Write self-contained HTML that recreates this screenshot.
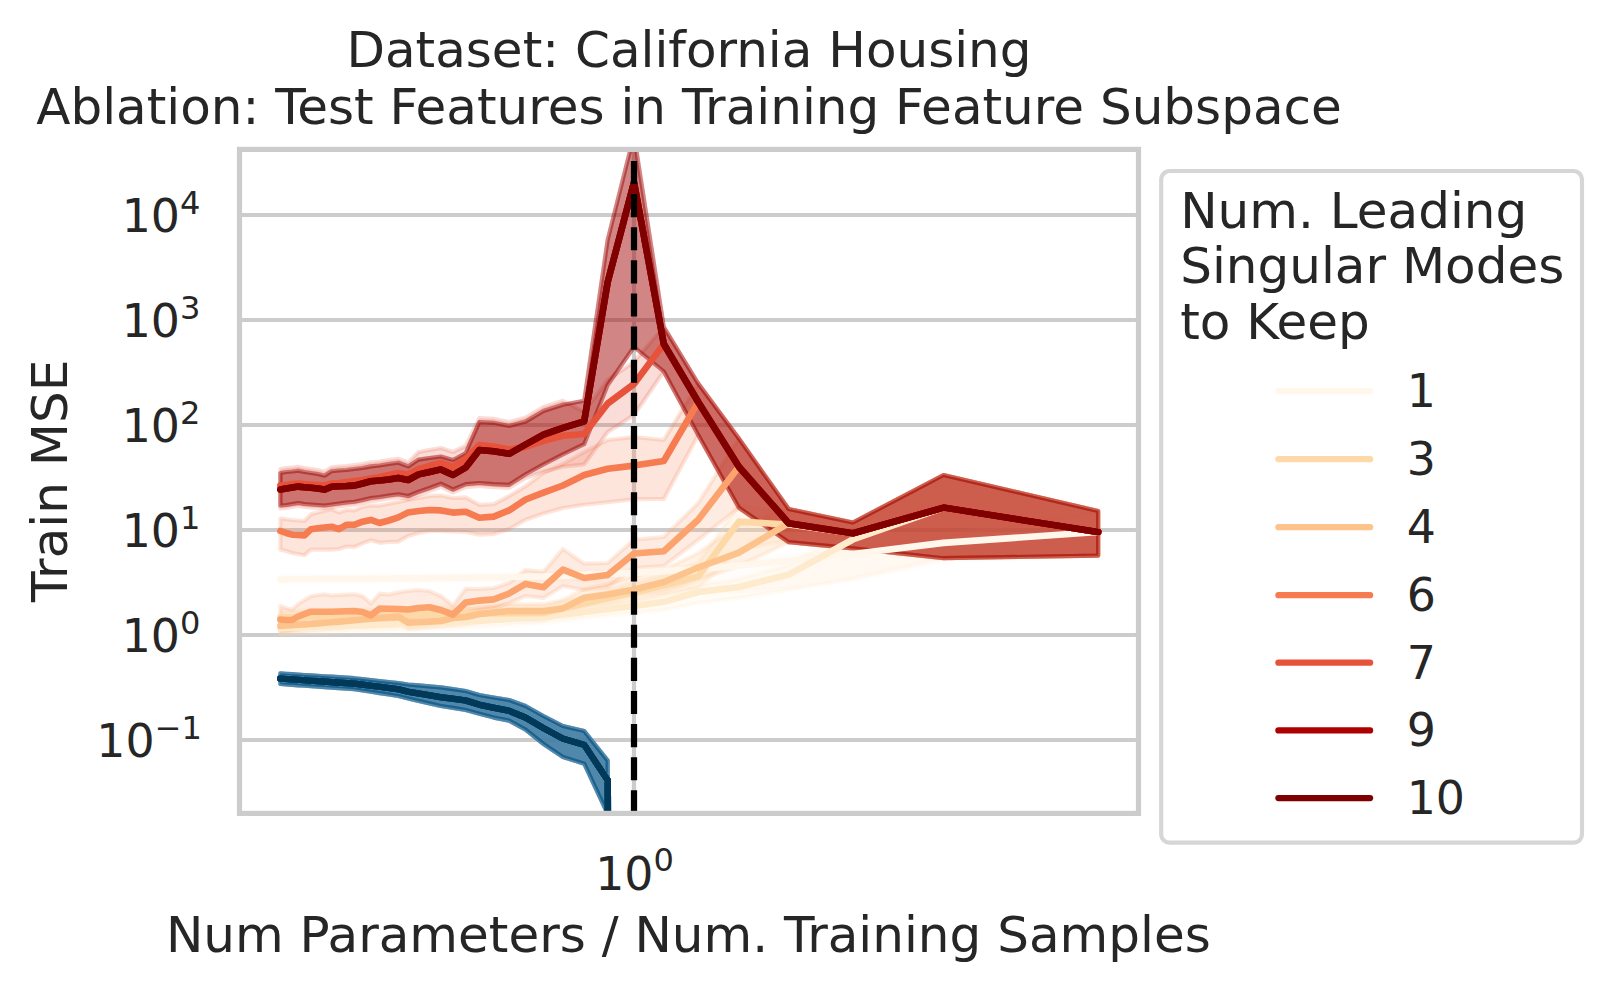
<!DOCTYPE html>
<html><head><meta charset="utf-8"><title>Train MSE ablation</title>
<style>html,body{margin:0;padding:0;background:#fff;}svg{display:block;}</style></head>
<body>
<svg width="1612" height="993" viewBox="0 0 1612 993" font-family="'DejaVu Sans', 'Liberation Sans', sans-serif" fill="#262626">
<rect width="1612" height="993" fill="#ffffff"/>
<defs><clipPath id="ax"><rect x="239.5" y="149.4" width="899.0" height="664.0"/></clipPath></defs>
<line x1="239.5" x2="1138.5" y1="215" y2="215" stroke="#cccccc" stroke-width="4.17"/>
<line x1="239.5" x2="1138.5" y1="320" y2="320" stroke="#cccccc" stroke-width="4.17"/>
<line x1="239.5" x2="1138.5" y1="425" y2="425" stroke="#cccccc" stroke-width="4.17"/>
<line x1="239.5" x2="1138.5" y1="530" y2="530" stroke="#cccccc" stroke-width="4.17"/>
<line x1="239.5" x2="1138.5" y1="635" y2="635" stroke="#cccccc" stroke-width="4.17"/>
<line x1="239.5" x2="1138.5" y1="740" y2="740" stroke="#cccccc" stroke-width="4.17"/>
<line x1="634.0" x2="634.0" y1="149.4" y2="813.4" stroke="#cccccc" stroke-width="4.17"/>
<g clip-path="url(#ax)">
<polygon points="280.4,673.4 286.2,673.8 292.1,674.2 298.2,674.6 304.5,675.0 311.0,675.4 317.7,675.8 324.5,676.3 331.6,676.7 338.9,677.2 346.5,677.7 354.3,678.2 362.5,679.1 370.9,680.0 379.6,681.0 388.8,682.0 398.3,683.0 408.2,684.5 418.6,685.4 429.5,686.4 440.9,687.4 453.0,689.1 465.7,691.0 479.3,695.0 493.7,697.5 509.1,700.0 525.6,706.0 543.5,716.0 562.9,726.0 584.2,731.0 607.7,760.6 608.7,900.0 606.7,900 607.7,814.0 584.2,763.7 562.9,756.9 543.5,744.0 525.6,729.7 509.1,720.6 493.7,717.6 479.3,713.8 465.7,710.0 453.0,707.9 440.9,706.0 429.5,703.4 418.6,700.9 408.2,698.5 398.3,696.0 388.8,694.5 379.6,693.1 370.9,691.8 362.5,690.5 354.3,689.2 346.5,688.6 338.9,688.1 331.6,687.6 324.5,687.1 317.7,686.6 311.0,686.2 304.5,685.7 298.2,685.3 292.1,684.8 286.2,684.4 280.4,684.0" fill="#fff7fb" fill-opacity="0.2" stroke="#fff7fb" stroke-opacity="0.2" stroke-width="4.17" stroke-linejoin="round"/>
<polygon points="280.4,673.4 286.2,673.8 292.1,674.2 298.2,674.6 304.5,675.0 311.0,675.4 317.7,675.8 324.5,676.3 331.6,676.7 338.9,677.2 346.5,677.7 354.3,678.2 362.5,679.1 370.9,680.0 379.6,681.0 388.8,682.0 398.3,683.0 408.2,684.5 418.6,685.4 429.5,686.4 440.9,687.4 453.0,689.1 465.7,691.0 479.3,695.0 493.7,697.5 509.1,700.0 525.6,706.0 543.5,716.0 562.9,726.0 584.2,731.0 607.7,760.6 608.7,900.0 606.7,900 607.7,814.0 584.2,763.7 562.9,756.9 543.5,744.0 525.6,729.7 509.1,720.6 493.7,717.6 479.3,713.8 465.7,710.0 453.0,707.9 440.9,706.0 429.5,703.4 418.6,700.9 408.2,698.5 398.3,696.0 388.8,694.5 379.6,693.1 370.9,691.8 362.5,690.5 354.3,689.2 346.5,688.6 338.9,688.1 331.6,687.6 324.5,687.1 317.7,686.6 311.0,686.2 304.5,685.7 298.2,685.3 292.1,684.8 286.2,684.4 280.4,684.0" fill="#eee9f3" fill-opacity="0.2" stroke="#eee9f3" stroke-opacity="0.2" stroke-width="4.17" stroke-linejoin="round"/>
<polygon points="280.4,673.4 286.2,673.8 292.1,674.2 298.2,674.6 304.5,675.0 311.0,675.4 317.7,675.8 324.5,676.3 331.6,676.7 338.9,677.2 346.5,677.7 354.3,678.2 362.5,679.1 370.9,680.0 379.6,681.0 388.8,682.0 398.3,683.0 408.2,684.5 418.6,685.4 429.5,686.4 440.9,687.4 453.0,689.1 465.7,691.0 479.3,695.0 493.7,697.5 509.1,700.0 525.6,706.0 543.5,716.0 562.9,726.0 584.2,731.0 607.7,760.6 608.7,900.0 606.7,900 607.7,814.0 584.2,763.7 562.9,756.9 543.5,744.0 525.6,729.7 509.1,720.6 493.7,717.6 479.3,713.8 465.7,710.0 453.0,707.9 440.9,706.0 429.5,703.4 418.6,700.9 408.2,698.5 398.3,696.0 388.8,694.5 379.6,693.1 370.9,691.8 362.5,690.5 354.3,689.2 346.5,688.6 338.9,688.1 331.6,687.6 324.5,687.1 317.7,686.6 311.0,686.2 304.5,685.7 298.2,685.3 292.1,684.8 286.2,684.4 280.4,684.0" fill="#d7d6e9" fill-opacity="0.2" stroke="#d7d6e9" stroke-opacity="0.2" stroke-width="4.17" stroke-linejoin="round"/>
<polygon points="280.4,673.4 286.2,673.8 292.1,674.2 298.2,674.6 304.5,675.0 311.0,675.4 317.7,675.8 324.5,676.3 331.6,676.7 338.9,677.2 346.5,677.7 354.3,678.2 362.5,679.1 370.9,680.0 379.6,681.0 388.8,682.0 398.3,683.0 408.2,684.5 418.6,685.4 429.5,686.4 440.9,687.4 453.0,689.1 465.7,691.0 479.3,695.0 493.7,697.5 509.1,700.0 525.6,706.0 543.5,716.0 562.9,726.0 584.2,731.0 607.7,760.6 608.7,900.0 606.7,900 607.7,814.0 584.2,763.7 562.9,756.9 543.5,744.0 525.6,729.7 509.1,720.6 493.7,717.6 479.3,713.8 465.7,710.0 453.0,707.9 440.9,706.0 429.5,703.4 418.6,700.9 408.2,698.5 398.3,696.0 388.8,694.5 379.6,693.1 370.9,691.8 362.5,690.5 354.3,689.2 346.5,688.6 338.9,688.1 331.6,687.6 324.5,687.1 317.7,686.6 311.0,686.2 304.5,685.7 298.2,685.3 292.1,684.8 286.2,684.4 280.4,684.0" fill="#b4c4df" fill-opacity="0.2" stroke="#b4c4df" stroke-opacity="0.2" stroke-width="4.17" stroke-linejoin="round"/>
<polygon points="280.4,673.4 286.2,673.8 292.1,674.2 298.2,674.6 304.5,675.0 311.0,675.4 317.7,675.8 324.5,676.3 331.6,676.7 338.9,677.2 346.5,677.7 354.3,678.2 362.5,679.1 370.9,680.0 379.6,681.0 388.8,682.0 398.3,683.0 408.2,684.5 418.6,685.4 429.5,686.4 440.9,687.4 453.0,689.1 465.7,691.0 479.3,695.0 493.7,697.5 509.1,700.0 525.6,706.0 543.5,716.0 562.9,726.0 584.2,731.0 607.7,760.6 608.7,900.0 606.7,900 607.7,814.0 584.2,763.7 562.9,756.9 543.5,744.0 525.6,729.7 509.1,720.6 493.7,717.6 479.3,713.8 465.7,710.0 453.0,707.9 440.9,706.0 429.5,703.4 418.6,700.9 408.2,698.5 398.3,696.0 388.8,694.5 379.6,693.1 370.9,691.8 362.5,690.5 354.3,689.2 346.5,688.6 338.9,688.1 331.6,687.6 324.5,687.1 317.7,686.6 311.0,686.2 304.5,685.7 298.2,685.3 292.1,684.8 286.2,684.4 280.4,684.0" fill="#8bb2d4" fill-opacity="0.2" stroke="#8bb2d4" stroke-opacity="0.2" stroke-width="4.17" stroke-linejoin="round"/>
<polygon points="280.4,673.4 286.2,673.8 292.1,674.2 298.2,674.6 304.5,675.0 311.0,675.4 317.7,675.8 324.5,676.3 331.6,676.7 338.9,677.2 346.5,677.7 354.3,678.2 362.5,679.1 370.9,680.0 379.6,681.0 388.8,682.0 398.3,683.0 408.2,684.5 418.6,685.4 429.5,686.4 440.9,687.4 453.0,689.1 465.7,691.0 479.3,695.0 493.7,697.5 509.1,700.0 525.6,706.0 543.5,716.0 562.9,726.0 584.2,731.0 607.7,760.6 608.7,900.0 606.7,900 607.7,814.0 584.2,763.7 562.9,756.9 543.5,744.0 525.6,729.7 509.1,720.6 493.7,717.6 479.3,713.8 465.7,710.0 453.0,707.9 440.9,706.0 429.5,703.4 418.6,700.9 408.2,698.5 398.3,696.0 388.8,694.5 379.6,693.1 370.9,691.8 362.5,690.5 354.3,689.2 346.5,688.6 338.9,688.1 331.6,687.6 324.5,687.1 317.7,686.6 311.0,686.2 304.5,685.7 298.2,685.3 292.1,684.8 286.2,684.4 280.4,684.0" fill="#589ec8" fill-opacity="0.2" stroke="#589ec8" stroke-opacity="0.2" stroke-width="4.17" stroke-linejoin="round"/>
<polygon points="280.4,673.4 286.2,673.8 292.1,674.2 298.2,674.6 304.5,675.0 311.0,675.4 317.7,675.8 324.5,676.3 331.6,676.7 338.9,677.2 346.5,677.7 354.3,678.2 362.5,679.1 370.9,680.0 379.6,681.0 388.8,682.0 398.3,683.0 408.2,684.5 418.6,685.4 429.5,686.4 440.9,687.4 453.0,689.1 465.7,691.0 479.3,695.0 493.7,697.5 509.1,700.0 525.6,706.0 543.5,716.0 562.9,726.0 584.2,731.0 607.7,760.6 608.7,900.0 606.7,900 607.7,814.0 584.2,763.7 562.9,756.9 543.5,744.0 525.6,729.7 509.1,720.6 493.7,717.6 479.3,713.8 465.7,710.0 453.0,707.9 440.9,706.0 429.5,703.4 418.6,700.9 408.2,698.5 398.3,696.0 388.8,694.5 379.6,693.1 370.9,691.8 362.5,690.5 354.3,689.2 346.5,688.6 338.9,688.1 331.6,687.6 324.5,687.1 317.7,686.6 311.0,686.2 304.5,685.7 298.2,685.3 292.1,684.8 286.2,684.4 280.4,684.0" fill="#2685bb" fill-opacity="0.2" stroke="#2685bb" stroke-opacity="0.2" stroke-width="4.17" stroke-linejoin="round"/>
<polygon points="280.4,673.4 286.2,673.8 292.1,674.2 298.2,674.6 304.5,675.0 311.0,675.4 317.7,675.8 324.5,676.3 331.6,676.7 338.9,677.2 346.5,677.7 354.3,678.2 362.5,679.1 370.9,680.0 379.6,681.0 388.8,682.0 398.3,683.0 408.2,684.5 418.6,685.4 429.5,686.4 440.9,687.4 453.0,689.1 465.7,691.0 479.3,695.0 493.7,697.5 509.1,700.0 525.6,706.0 543.5,716.0 562.9,726.0 584.2,731.0 607.7,760.6 608.7,900.0 606.7,900 607.7,814.0 584.2,763.7 562.9,756.9 543.5,744.0 525.6,729.7 509.1,720.6 493.7,717.6 479.3,713.8 465.7,710.0 453.0,707.9 440.9,706.0 429.5,703.4 418.6,700.9 408.2,698.5 398.3,696.0 388.8,694.5 379.6,693.1 370.9,691.8 362.5,690.5 354.3,689.2 346.5,688.6 338.9,688.1 331.6,687.6 324.5,687.1 317.7,686.6 311.0,686.2 304.5,685.7 298.2,685.3 292.1,684.8 286.2,684.4 280.4,684.0" fill="#056ba7" fill-opacity="0.2" stroke="#056ba7" stroke-opacity="0.2" stroke-width="4.17" stroke-linejoin="round"/>
<polygon points="280.4,673.4 286.2,673.8 292.1,674.2 298.2,674.6 304.5,675.0 311.0,675.4 317.7,675.8 324.5,676.3 331.6,676.7 338.9,677.2 346.5,677.7 354.3,678.2 362.5,679.1 370.9,680.0 379.6,681.0 388.8,682.0 398.3,683.0 408.2,684.5 418.6,685.4 429.5,686.4 440.9,687.4 453.0,689.1 465.7,691.0 479.3,695.0 493.7,697.5 509.1,700.0 525.6,706.0 543.5,716.0 562.9,726.0 584.2,731.0 607.7,760.6 608.7,900.0 606.7,900 607.7,814.0 584.2,763.7 562.9,756.9 543.5,744.0 525.6,729.7 509.1,720.6 493.7,717.6 479.3,713.8 465.7,710.0 453.0,707.9 440.9,706.0 429.5,703.4 418.6,700.9 408.2,698.5 398.3,696.0 388.8,694.5 379.6,693.1 370.9,691.8 362.5,690.5 354.3,689.2 346.5,688.6 338.9,688.1 331.6,687.6 324.5,687.1 317.7,686.6 311.0,686.2 304.5,685.7 298.2,685.3 292.1,684.8 286.2,684.4 280.4,684.0" fill="#045687" fill-opacity="0.2" stroke="#045687" stroke-opacity="0.2" stroke-width="4.17" stroke-linejoin="round"/>
<polygon points="280.4,673.4 286.2,673.8 292.1,674.2 298.2,674.6 304.5,675.0 311.0,675.4 317.7,675.8 324.5,676.3 331.6,676.7 338.9,677.2 346.5,677.7 354.3,678.2 362.5,679.1 370.9,680.0 379.6,681.0 388.8,682.0 398.3,683.0 408.2,684.5 418.6,685.4 429.5,686.4 440.9,687.4 453.0,689.1 465.7,691.0 479.3,695.0 493.7,697.5 509.1,700.0 525.6,706.0 543.5,716.0 562.9,726.0 584.2,731.0 607.7,760.6 608.7,900.0 606.7,900 607.7,814.0 584.2,763.7 562.9,756.9 543.5,744.0 525.6,729.7 509.1,720.6 493.7,717.6 479.3,713.8 465.7,710.0 453.0,707.9 440.9,706.0 429.5,703.4 418.6,700.9 408.2,698.5 398.3,696.0 388.8,694.5 379.6,693.1 370.9,691.8 362.5,690.5 354.3,689.2 346.5,688.6 338.9,688.1 331.6,687.6 324.5,687.1 317.7,686.6 311.0,686.2 304.5,685.7 298.2,685.3 292.1,684.8 286.2,684.4 280.4,684.0" fill="#023858" fill-opacity="0.2" stroke="#023858" stroke-opacity="0.2" stroke-width="4.17" stroke-linejoin="round"/>
<polygon points="280.4,576.4 286.2,576.3 292.1,576.3 298.2,576.2 304.5,576.2 311.0,576.1 317.7,576.1 324.5,576.0 331.6,576.0 338.9,575.9 346.5,575.8 354.3,575.8 362.5,575.7 370.9,575.6 379.6,575.5 388.8,575.5 398.3,575.4 408.2,575.3 418.6,575.2 429.5,575.1 440.9,575.0 453.0,574.8 465.7,574.6 479.3,574.4 493.7,574.2 509.1,574.0 525.6,573.8 543.5,573.5 562.9,572.6 584.2,571.7 607.7,570.7 634.0,569.5 663.8,567.4 698.2,565.0 738.9,561.0 788.7,556.0 852.9,548.0 943.5,536.0 1098.2,511.0 1098.2,555.6 943.5,561.0 852.9,580.0 788.7,588.0 738.9,591.0 698.2,590.0 663.8,586.8 634.0,584.0 607.7,583.1 584.2,582.3 562.9,581.6 543.5,581.0 525.6,581.0 509.1,581.0 493.7,581.0 479.3,581.0 465.7,581.0 453.0,581.0 440.9,581.0 429.5,581.1 418.6,581.2 408.2,581.3 398.3,581.4 388.8,581.5 379.6,581.5 370.9,581.6 362.5,581.7 354.3,581.8 346.5,581.8 338.9,581.9 331.6,582.0 324.5,582.0 317.7,582.1 311.0,582.1 304.5,582.2 298.2,582.2 292.1,582.3 286.2,582.3 280.4,582.4" fill="#fff7ec" fill-opacity="0.2" stroke="#fff7ec" stroke-opacity="0.2" stroke-width="4.17" stroke-linejoin="round"/>
<polygon points="280.4,622.0 286.2,621.8 292.1,621.6 298.2,621.4 304.5,621.2 311.0,621.0 317.7,620.8 324.5,620.6 331.6,620.4 338.9,620.2 346.5,619.9 354.3,619.7 362.5,619.4 370.9,619.2 379.6,618.9 388.8,618.6 398.3,618.3 408.2,618.0 418.6,617.7 429.5,617.4 440.9,617.0 453.0,616.3 465.7,615.5 479.3,614.8 493.7,613.9 509.1,613.0 525.6,612.0 543.5,611.0 562.9,608.6 584.2,606.0 607.7,603.2 634.0,600.0 663.8,595.0 698.2,585.0 738.9,579.0 788.7,565.0 852.9,528.0 943.5,475.0 1098.2,511.0 1098.2,555.6 943.5,558.2 852.9,578.0 788.7,590.0 738.9,598.0 698.2,603.0 663.8,610.0 634.0,613.0 607.7,615.6 584.2,618.0 562.9,620.6 543.5,623.0 525.6,624.0 509.1,625.0 493.7,625.9 479.3,626.8 465.7,627.5 453.0,628.3 440.9,629.0 429.5,629.4 418.6,629.7 408.2,630.0 398.3,630.3 388.8,630.6 379.6,630.9 370.9,631.2 362.5,631.4 354.3,631.7 346.5,631.9 338.9,632.2 331.6,632.4 324.5,632.6 317.7,632.8 311.0,633.0 304.5,633.2 298.2,633.4 292.1,633.6 286.2,633.8 280.4,634.0" fill="#feeacc" fill-opacity="0.2" stroke="#feeacc" stroke-opacity="0.2" stroke-width="4.17" stroke-linejoin="round"/>
<polygon points="280.4,611.0 286.2,610.9 292.1,610.8 298.2,610.8 304.5,610.7 311.0,610.6 317.7,610.5 324.5,610.4 331.6,610.3 338.9,610.2 346.5,610.1 354.3,610.0 362.5,609.8 370.9,609.6 379.6,609.3 388.8,609.1 398.3,608.8 408.2,608.6 418.6,608.3 429.5,608.0 440.9,607.7 453.0,607.3 465.7,607.0 479.3,606.8 493.7,606.6 509.1,606.4 525.6,606.2 543.5,606.0 562.9,601.0 584.2,596.0 607.7,590.0 634.0,583.0 663.8,575.0 698.2,563.0 738.9,505.0 788.7,512.0 852.9,522.5 943.5,475.0 1098.2,511.0 1098.2,555.6 943.5,558.2 852.9,548.4 788.7,540.0 738.9,550.0 698.2,588.0 663.8,595.0 634.0,601.0 607.7,606.0 584.2,611.0 562.9,615.0 543.5,620.0 525.6,620.0 509.1,620.0 493.7,620.0 479.3,620.0 465.7,620.0 453.0,620.2 440.9,620.4 429.5,620.7 418.6,620.8 408.2,621.0 398.3,621.2 388.8,621.4 379.6,621.5 370.9,621.7 362.5,621.9 354.3,622.0 346.5,622.2 338.9,622.4 331.6,622.6 324.5,622.8 317.7,623.0 311.0,623.2 304.5,623.3 298.2,623.5 292.1,623.7 286.2,623.8 280.4,624.0" fill="#fdd9a8" fill-opacity="0.2" stroke="#fdd9a8" stroke-opacity="0.2" stroke-width="4.17" stroke-linejoin="round"/>
<polygon points="280.4,619.0 286.2,618.8 292.1,618.6 298.2,618.4 304.5,618.2 311.0,618.0 317.7,617.4 324.5,616.8 331.6,616.1 338.9,615.4 346.5,614.7 354.3,614.0 362.5,613.3 370.9,612.5 379.6,611.7 388.8,610.9 398.3,610.0 408.2,616.0 418.6,614.9 429.5,613.8 440.9,612.6 453.0,611.3 465.7,610.0 479.3,608.1 493.7,606.1 509.1,604.0 525.6,604.0 543.5,604.0 562.9,600.0 584.2,589.0 607.7,584.0 634.0,576.0 663.8,570.0 698.2,553.0 738.9,525.0 788.7,509.0 852.9,522.5 943.5,475.0 1098.2,511.0 1098.2,555.6 943.5,558.2 852.9,548.4 788.7,542.2 738.9,566.0 698.2,580.0 663.8,592.0 634.0,596.0 607.7,602.0 584.2,606.0 562.9,615.0 543.5,618.0 525.6,618.0 509.1,618.0 493.7,620.1 479.3,622.1 465.7,624.0 453.0,625.1 440.9,626.2 429.5,627.2 418.6,628.1 408.2,629.0 398.3,623.0 388.8,623.9 379.6,624.7 370.9,625.5 362.5,626.3 354.3,627.0 346.5,627.5 338.9,628.1 331.6,628.6 324.5,629.1 317.7,629.5 311.0,630.0 304.5,630.8 298.2,631.7 292.1,632.5 286.2,633.2 280.4,634.0" fill="#fdc38d" fill-opacity="0.2" stroke="#fdc38d" stroke-opacity="0.2" stroke-width="4.17" stroke-linejoin="round"/>
<polygon points="280.4,606.0 286.2,608.0 292.1,609.8 298.2,604.0 304.5,600.0 311.0,596.2 317.7,595.0 324.5,594.3 331.6,595.5 338.9,595.0 346.5,594.6 354.3,594.3 362.5,596.0 370.9,603.6 379.6,593.7 388.8,594.5 398.3,592.4 408.2,591.0 418.6,590.0 429.5,591.2 440.9,596.0 453.0,605.5 465.7,588.8 479.3,589.0 493.7,588.0 509.1,583.0 525.6,570.0 543.5,571.8 562.9,548.9 584.2,563.7 607.7,563.0 634.0,539.6 663.8,537.0 698.2,503.0 738.9,438.6 788.7,509.0 852.9,522.5 943.5,475.0 1098.2,511.0 1098.2,555.6 943.5,558.2 852.9,548.4 788.7,542.2 738.9,507.7 698.2,540.0 663.8,566.0 634.0,568.0 607.7,587.0 584.2,590.0 562.9,586.0 543.5,598.0 525.6,596.0 509.1,603.0 493.7,608.0 479.3,610.0 465.7,612.0 453.0,621.0 440.9,619.0 429.5,617.0 418.6,618.0 408.2,619.0 398.3,620.0 388.8,621.4 379.6,622.7 370.9,624.0 362.5,623.0 354.3,622.0 346.5,622.4 338.9,622.7 331.6,623.0 324.5,623.4 317.7,623.7 311.0,624.0 304.5,626.1 298.2,628.1 292.1,630.0 286.2,630.5 280.4,631.0" fill="#fca26d" fill-opacity="0.2" stroke="#fca26d" stroke-opacity="0.2" stroke-width="4.17" stroke-linejoin="round"/>
<polygon points="280.4,518.6 286.2,519.3 292.1,520.0 298.2,520.5 304.5,521.0 311.0,514.3 317.7,512.5 324.5,511.0 331.6,509.3 338.9,512.4 346.5,510.0 354.3,510.5 362.5,506.8 370.9,505.6 379.6,505.6 388.8,503.7 398.3,501.9 408.2,500.0 418.6,498.0 429.5,496.0 440.9,495.5 453.0,498.0 465.7,497.4 479.3,504.8 493.7,504.2 509.1,496.0 525.6,486.2 543.5,473.0 562.9,464.0 584.2,452.0 607.7,440.0 634.0,437.0 663.8,440.0 698.2,383.6 738.9,438.6 788.7,509.0 852.9,522.5 943.5,475.0 1098.2,511.0 1098.2,555.6 943.5,558.2 852.9,548.4 788.7,542.2 738.9,507.7 698.2,435.0 663.8,499.0 634.0,499.2 607.7,502.3 584.2,504.8 562.9,508.0 543.5,513.5 525.6,519.7 509.1,529.0 493.7,534.0 479.3,534.6 465.7,532.0 453.0,531.5 440.9,530.9 429.5,531.0 418.6,533.0 408.2,536.0 398.3,541.6 388.8,542.0 379.6,542.8 370.9,540.3 362.5,543.4 354.3,547.0 346.5,546.5 338.9,549.0 331.6,549.6 324.5,549.6 317.7,549.6 311.0,549.6 304.5,555.2 298.2,554.0 292.1,553.0 286.2,551.0 280.4,549.6" fill="#f67b51" fill-opacity="0.2" stroke="#f67b51" stroke-opacity="0.2" stroke-width="4.17" stroke-linejoin="round"/>
<polygon points="280.4,469.0 286.2,468.0 292.1,467.5 298.2,466.7 304.5,468.0 311.0,469.0 317.7,470.0 324.5,471.7 331.6,467.3 338.9,466.5 346.5,466.0 354.3,465.0 362.5,464.0 370.9,462.4 379.6,461.5 388.8,460.0 398.3,458.7 408.2,462.4 418.6,452.0 429.5,450.0 440.9,448.0 453.0,452.0 465.7,446.0 479.3,418.2 493.7,418.8 509.1,422.0 525.6,417.6 543.5,407.0 562.9,400.8 584.2,412.0 607.7,380.0 634.0,362.0 663.8,327.0 698.2,383.6 738.9,438.6 788.7,509.0 852.9,522.5 943.5,475.0 1098.2,511.0 1098.2,555.6 943.5,558.2 852.9,548.4 788.7,542.2 738.9,507.7 698.2,435.0 663.8,371.5 634.0,415.0 607.7,432.0 584.2,464.4 562.9,466.8 543.5,471.8 525.6,478.0 509.1,487.8 493.7,487.2 479.3,486.0 465.7,487.2 453.0,492.5 440.9,486.7 429.5,491.0 418.6,494.8 408.2,499.0 398.3,497.3 388.8,498.5 379.6,500.0 370.9,501.0 362.5,503.0 354.3,504.7 346.5,505.5 338.9,506.5 331.6,507.5 324.5,508.5 317.7,508.0 311.0,507.5 304.5,507.0 298.2,506.0 292.1,507.0 286.2,508.0 280.4,508.5" fill="#e7533a" fill-opacity="0.2" stroke="#e7533a" stroke-opacity="0.2" stroke-width="4.17" stroke-linejoin="round"/>
<polygon points="280.4,473.0 286.2,472.0 292.1,471.5 298.2,470.7 304.5,472.0 311.0,473.0 317.7,474.0 324.5,475.7 331.6,471.3 338.9,470.5 346.5,470.0 354.3,469.0 362.5,468.0 370.9,466.4 379.6,465.5 388.8,464.0 398.3,462.7 408.2,466.4 418.6,459.6 429.5,458.0 440.9,456.5 453.0,460.0 465.7,453.0 479.3,422.2 493.7,422.8 509.1,426.0 525.6,421.6 543.5,411.0 562.9,404.8 584.2,400.7 607.7,239.7 634.0,135.0 663.8,327.0 698.2,383.6 738.9,438.6 788.7,509.0 852.9,522.5 943.5,475.0 1098.2,511.0 1098.2,555.6 943.5,558.2 852.9,548.4 788.7,542.2 738.9,507.7 698.2,435.0 663.8,371.5 634.0,347.0 607.7,385.0 584.2,444.2 562.9,454.4 543.5,464.4 525.6,474.3 509.1,484.8 493.7,484.2 479.3,483.0 465.7,484.2 453.0,489.5 440.9,483.7 429.5,488.0 418.6,491.8 408.2,496.0 398.3,494.3 388.8,495.5 379.6,497.0 370.9,498.0 362.5,500.0 354.3,501.7 346.5,502.5 338.9,503.5 331.6,504.5 324.5,505.5 317.7,505.0 311.0,504.5 304.5,504.0 298.2,503.0 292.1,504.0 286.2,505.0 280.4,505.5" fill="#ce2417" fill-opacity="0.2" stroke="#ce2417" stroke-opacity="0.2" stroke-width="4.17" stroke-linejoin="round"/>
<polygon points="280.4,473.0 286.2,472.0 292.1,471.5 298.2,470.7 304.5,472.0 311.0,473.0 317.7,474.0 324.5,475.7 331.6,471.3 338.9,470.5 346.5,470.0 354.3,469.0 362.5,468.0 370.9,466.4 379.6,465.5 388.8,464.0 398.3,462.7 408.2,466.4 418.6,459.6 429.5,458.0 440.9,456.5 453.0,460.0 465.7,453.0 479.3,422.2 493.7,422.8 509.1,426.0 525.6,421.6 543.5,411.0 562.9,404.8 584.2,400.7 607.7,239.7 634.0,135.0 663.8,327.0 698.2,383.6 738.9,438.6 788.7,509.0 852.9,522.5 943.5,475.0 1098.2,511.0 1098.2,555.6 943.5,558.2 852.9,548.4 788.7,542.2 738.9,507.7 698.2,435.0 663.8,371.5 634.0,347.0 607.7,385.0 584.2,444.2 562.9,454.4 543.5,464.4 525.6,474.3 509.1,484.8 493.7,484.2 479.3,483.0 465.7,484.2 453.0,489.5 440.9,483.7 429.5,488.0 418.6,491.8 408.2,496.0 398.3,494.3 388.8,495.5 379.6,497.0 370.9,498.0 362.5,500.0 354.3,501.7 346.5,502.5 338.9,503.5 331.6,504.5 324.5,505.5 317.7,505.0 311.0,504.5 304.5,504.0 298.2,503.0 292.1,504.0 286.2,505.0 280.4,505.5" fill="#ad0000" fill-opacity="0.2" stroke="#ad0000" stroke-opacity="0.2" stroke-width="4.17" stroke-linejoin="round"/>
<polygon points="280.4,473.0 286.2,472.0 292.1,471.5 298.2,470.7 304.5,472.0 311.0,473.0 317.7,474.0 324.5,475.7 331.6,471.3 338.9,470.5 346.5,470.0 354.3,469.0 362.5,468.0 370.9,466.4 379.6,465.5 388.8,464.0 398.3,462.7 408.2,466.4 418.6,459.6 429.5,458.0 440.9,456.5 453.0,460.0 465.7,453.0 479.3,422.2 493.7,422.8 509.1,426.0 525.6,421.6 543.5,411.0 562.9,404.8 584.2,400.7 607.7,239.7 634.0,135.0 663.8,327.0 698.2,383.6 738.9,438.6 788.7,509.0 852.9,522.5 943.5,475.0 1098.2,511.0 1098.2,555.6 943.5,558.2 852.9,548.4 788.7,542.2 738.9,507.7 698.2,435.0 663.8,371.5 634.0,347.0 607.7,385.0 584.2,444.2 562.9,454.4 543.5,464.4 525.6,474.3 509.1,484.8 493.7,484.2 479.3,483.0 465.7,484.2 453.0,489.5 440.9,483.7 429.5,488.0 418.6,491.8 408.2,496.0 398.3,494.3 388.8,495.5 379.6,497.0 370.9,498.0 362.5,500.0 354.3,501.7 346.5,502.5 338.9,503.5 331.6,504.5 324.5,505.5 317.7,505.0 311.0,504.5 304.5,504.0 298.2,503.0 292.1,504.0 286.2,505.0 280.4,505.5" fill="#7f0000" fill-opacity="0.2" stroke="#7f0000" stroke-opacity="0.2" stroke-width="4.17" stroke-linejoin="round"/>
<polyline points="280.4,678.6 286.2,679.0 292.1,679.4 298.2,679.8 304.5,680.2 311.0,680.7 317.7,681.1 324.5,681.6 331.6,682.1 338.9,682.6 346.5,683.1 354.3,683.6 362.5,684.6 370.9,685.7 379.6,686.8 388.8,688.0 398.3,689.2 408.2,691.7 418.6,693.4 429.5,695.3 440.9,697.2 453.0,698.8 465.7,700.5 479.3,704.7 493.7,707.8 509.1,710.8 525.6,717.6 543.5,728.2 562.9,738.7 584.2,744.8 607.7,780.3 608.0,900.0" fill="none" stroke="#fff7fb" stroke-width="6.6" stroke-linejoin="round" stroke-linecap="round"/>
<polyline points="280.4,678.6 286.2,679.0 292.1,679.4 298.2,679.8 304.5,680.2 311.0,680.7 317.7,681.1 324.5,681.6 331.6,682.1 338.9,682.6 346.5,683.1 354.3,683.6 362.5,684.6 370.9,685.7 379.6,686.8 388.8,688.0 398.3,689.2 408.2,691.7 418.6,693.4 429.5,695.3 440.9,697.2 453.0,698.8 465.7,700.5 479.3,704.7 493.7,707.8 509.1,710.8 525.6,717.6 543.5,728.2 562.9,738.7 584.2,744.8 607.7,780.3 608.0,900.0" fill="none" stroke="#eee9f3" stroke-width="6.6" stroke-linejoin="round" stroke-linecap="round"/>
<polyline points="280.4,678.6 286.2,679.0 292.1,679.4 298.2,679.8 304.5,680.2 311.0,680.7 317.7,681.1 324.5,681.6 331.6,682.1 338.9,682.6 346.5,683.1 354.3,683.6 362.5,684.6 370.9,685.7 379.6,686.8 388.8,688.0 398.3,689.2 408.2,691.7 418.6,693.4 429.5,695.3 440.9,697.2 453.0,698.8 465.7,700.5 479.3,704.7 493.7,707.8 509.1,710.8 525.6,717.6 543.5,728.2 562.9,738.7 584.2,744.8 607.7,780.3 608.0,900.0" fill="none" stroke="#d7d6e9" stroke-width="6.6" stroke-linejoin="round" stroke-linecap="round"/>
<polyline points="280.4,678.6 286.2,679.0 292.1,679.4 298.2,679.8 304.5,680.2 311.0,680.7 317.7,681.1 324.5,681.6 331.6,682.1 338.9,682.6 346.5,683.1 354.3,683.6 362.5,684.6 370.9,685.7 379.6,686.8 388.8,688.0 398.3,689.2 408.2,691.7 418.6,693.4 429.5,695.3 440.9,697.2 453.0,698.8 465.7,700.5 479.3,704.7 493.7,707.8 509.1,710.8 525.6,717.6 543.5,728.2 562.9,738.7 584.2,744.8 607.7,780.3 608.0,900.0" fill="none" stroke="#b4c4df" stroke-width="6.6" stroke-linejoin="round" stroke-linecap="round"/>
<polyline points="280.4,678.6 286.2,679.0 292.1,679.4 298.2,679.8 304.5,680.2 311.0,680.7 317.7,681.1 324.5,681.6 331.6,682.1 338.9,682.6 346.5,683.1 354.3,683.6 362.5,684.6 370.9,685.7 379.6,686.8 388.8,688.0 398.3,689.2 408.2,691.7 418.6,693.4 429.5,695.3 440.9,697.2 453.0,698.8 465.7,700.5 479.3,704.7 493.7,707.8 509.1,710.8 525.6,717.6 543.5,728.2 562.9,738.7 584.2,744.8 607.7,780.3 608.0,900.0" fill="none" stroke="#8bb2d4" stroke-width="6.6" stroke-linejoin="round" stroke-linecap="round"/>
<polyline points="280.4,678.6 286.2,679.0 292.1,679.4 298.2,679.8 304.5,680.2 311.0,680.7 317.7,681.1 324.5,681.6 331.6,682.1 338.9,682.6 346.5,683.1 354.3,683.6 362.5,684.6 370.9,685.7 379.6,686.8 388.8,688.0 398.3,689.2 408.2,691.7 418.6,693.4 429.5,695.3 440.9,697.2 453.0,698.8 465.7,700.5 479.3,704.7 493.7,707.8 509.1,710.8 525.6,717.6 543.5,728.2 562.9,738.7 584.2,744.8 607.7,780.3 608.0,900.0" fill="none" stroke="#589ec8" stroke-width="6.6" stroke-linejoin="round" stroke-linecap="round"/>
<polyline points="280.4,678.6 286.2,679.0 292.1,679.4 298.2,679.8 304.5,680.2 311.0,680.7 317.7,681.1 324.5,681.6 331.6,682.1 338.9,682.6 346.5,683.1 354.3,683.6 362.5,684.6 370.9,685.7 379.6,686.8 388.8,688.0 398.3,689.2 408.2,691.7 418.6,693.4 429.5,695.3 440.9,697.2 453.0,698.8 465.7,700.5 479.3,704.7 493.7,707.8 509.1,710.8 525.6,717.6 543.5,728.2 562.9,738.7 584.2,744.8 607.7,780.3 608.0,900.0" fill="none" stroke="#2685bb" stroke-width="6.6" stroke-linejoin="round" stroke-linecap="round"/>
<polyline points="280.4,678.6 286.2,679.0 292.1,679.4 298.2,679.8 304.5,680.2 311.0,680.7 317.7,681.1 324.5,681.6 331.6,682.1 338.9,682.6 346.5,683.1 354.3,683.6 362.5,684.6 370.9,685.7 379.6,686.8 388.8,688.0 398.3,689.2 408.2,691.7 418.6,693.4 429.5,695.3 440.9,697.2 453.0,698.8 465.7,700.5 479.3,704.7 493.7,707.8 509.1,710.8 525.6,717.6 543.5,728.2 562.9,738.7 584.2,744.8 607.7,780.3 608.0,900.0" fill="none" stroke="#056ba7" stroke-width="6.6" stroke-linejoin="round" stroke-linecap="round"/>
<polyline points="280.4,678.6 286.2,679.0 292.1,679.4 298.2,679.8 304.5,680.2 311.0,680.7 317.7,681.1 324.5,681.6 331.6,682.1 338.9,682.6 346.5,683.1 354.3,683.6 362.5,684.6 370.9,685.7 379.6,686.8 388.8,688.0 398.3,689.2 408.2,691.7 418.6,693.4 429.5,695.3 440.9,697.2 453.0,698.8 465.7,700.5 479.3,704.7 493.7,707.8 509.1,710.8 525.6,717.6 543.5,728.2 562.9,738.7 584.2,744.8 607.7,780.3 608.0,900.0" fill="none" stroke="#045687" stroke-width="6.6" stroke-linejoin="round" stroke-linecap="round"/>
<polyline points="280.4,678.6 286.2,679.0 292.1,679.4 298.2,679.8 304.5,680.2 311.0,680.7 317.7,681.1 324.5,681.6 331.6,682.1 338.9,682.6 346.5,683.1 354.3,683.6 362.5,684.6 370.9,685.7 379.6,686.8 388.8,688.0 398.3,689.2 408.2,691.7 418.6,693.4 429.5,695.3 440.9,697.2 453.0,698.8 465.7,700.5 479.3,704.7 493.7,707.8 509.1,710.8 525.6,717.6 543.5,728.2 562.9,738.7 584.2,744.8 607.7,780.3 608.0,900.0" fill="none" stroke="#023858" stroke-width="6.6" stroke-linejoin="round" stroke-linecap="round"/>
<polyline points="280.4,579.4 286.2,579.3 292.1,579.3 298.2,579.2 304.5,579.2 311.0,579.1 317.7,579.1 324.5,579.0 331.6,579.0 338.9,578.9 346.5,578.8 354.3,578.8 362.5,578.7 370.9,578.6 379.6,578.5 388.8,578.5 398.3,578.4 408.2,578.3 418.6,578.2 429.5,578.1 440.9,578.0 453.0,577.8 465.7,577.6 479.3,577.4 493.7,577.2 509.1,577.0 525.6,576.8 543.5,576.5 562.9,575.7 584.2,574.9 607.7,574.0 634.0,573.0 663.8,571.1 698.2,569.0 738.9,565.5 788.7,561.0 852.9,554.0 943.5,542.9 1098.2,532.0" fill="none" stroke="#fff7ec" stroke-width="6.6" stroke-linejoin="round" stroke-linecap="round"/>
<polyline points="280.4,628.0 286.2,627.8 292.1,627.6 298.2,627.4 304.5,627.2 311.0,627.0 317.7,626.8 324.5,626.6 331.6,626.4 338.9,626.2 346.5,625.9 354.3,625.7 362.5,625.4 370.9,625.2 379.6,624.9 388.8,624.6 398.3,624.3 408.2,624.0 418.6,623.7 429.5,623.4 440.9,623.0 453.0,622.3 465.7,621.5 479.3,620.8 493.7,619.9 509.1,619.0 525.6,618.0 543.5,617.0 562.9,614.6 584.2,612.0 607.7,609.2 634.0,606.0 663.8,601.8 698.2,592.0 738.9,587.0 788.7,574.6 852.9,539.5 943.5,507.6 1098.2,532.0" fill="none" stroke="#feeacc" stroke-width="6.6" stroke-linejoin="round" stroke-linecap="round"/>
<polyline points="280.4,617.2 286.2,617.1 292.1,617.0 298.2,616.9 304.5,616.8 311.0,616.7 317.7,616.6 324.5,616.5 331.6,616.4 338.9,616.2 346.5,616.1 354.3,616.0 362.5,615.8 370.9,615.6 379.6,615.4 388.8,615.2 398.3,615.0 408.2,614.8 418.6,614.6 429.5,614.3 440.9,614.1 453.0,613.8 465.7,613.5 479.3,613.4 493.7,613.3 509.1,613.2 525.6,613.1 543.5,613.0 562.9,608.0 584.2,603.4 607.7,598.0 634.0,592.3 663.8,585.6 698.2,576.4 738.9,521.6 788.7,524.6 852.9,533.2 943.5,507.6 1098.2,532.0" fill="none" stroke="#fdd9a8" stroke-width="6.6" stroke-linejoin="round" stroke-linecap="round"/>
<polyline points="280.4,625.9 286.2,625.5 292.1,625.2 298.2,624.8 304.5,624.4 311.0,624.0 317.7,623.4 324.5,622.8 331.6,622.2 338.9,621.6 346.5,621.0 354.3,620.3 362.5,619.5 370.9,618.8 379.6,618.0 388.8,617.2 398.3,616.6 408.2,622.8 418.6,622.2 429.5,621.6 440.9,621.0 453.0,618.0 465.7,617.0 479.3,614.0 493.7,612.5 509.1,611.0 525.6,611.0 543.5,611.0 562.9,608.4 584.2,597.8 607.7,594.5 634.0,589.5 663.8,582.0 698.2,567.5 738.9,552.6 788.7,523.2 852.9,533.2 943.5,507.6 1098.2,532.0" fill="none" stroke="#fdc38d" stroke-width="6.6" stroke-linejoin="round" stroke-linecap="round"/>
<polyline points="280.4,619.5 286.2,620.0 292.1,620.0 298.2,616.5 304.5,614.0 311.0,611.7 317.7,611.7 324.5,611.7 331.6,611.7 338.9,611.5 346.5,611.3 354.3,611.0 362.5,612.0 370.9,615.4 379.6,608.6 388.8,608.8 398.3,609.0 408.2,609.5 418.6,608.0 429.5,607.3 440.9,610.0 453.0,614.7 465.7,602.5 479.3,600.6 493.7,599.4 509.1,593.5 525.6,583.9 543.5,587.3 562.9,569.6 584.2,578.0 607.7,575.0 634.0,553.5 663.8,551.2 698.2,519.7 738.9,466.8 788.7,523.2 852.9,533.2 943.5,507.6 1098.2,532.0" fill="none" stroke="#fca26d" stroke-width="6.6" stroke-linejoin="round" stroke-linecap="round"/>
<polyline points="280.4,531.0 286.2,533.0 292.1,534.7 298.2,535.0 304.5,535.4 311.0,529.2 317.7,528.3 324.5,527.5 331.6,526.7 338.9,529.2 346.5,524.8 354.3,524.8 362.5,521.7 370.9,519.9 379.6,523.0 388.8,520.5 398.3,517.4 408.2,512.4 418.6,511.0 429.5,510.0 440.9,510.4 453.0,512.6 465.7,511.7 479.3,517.8 493.7,516.6 509.1,510.4 525.6,499.5 543.5,492.6 562.9,485.5 584.2,475.0 607.7,468.7 634.0,465.6 663.8,461.0 698.2,402.0 738.9,466.8 788.7,523.2 852.9,533.2 943.5,507.6 1098.2,532.0" fill="none" stroke="#f67b51" stroke-width="6.6" stroke-linejoin="round" stroke-linecap="round"/>
<polyline points="280.4,485.6 286.2,485.0 292.1,484.0 298.2,483.5 304.5,484.0 311.0,484.5 317.7,485.0 324.5,485.5 331.6,483.5 338.9,483.0 346.5,482.0 354.3,481.0 362.5,480.0 370.9,478.5 379.6,477.0 388.8,475.0 398.3,473.0 408.2,474.4 418.6,469.0 429.5,466.0 440.9,463.0 453.0,467.0 465.7,459.0 479.3,445.0 493.7,446.5 509.1,449.5 525.6,447.0 543.5,440.8 562.9,435.8 584.2,434.0 607.7,403.5 634.0,384.0 663.8,344.0 698.2,402.0 738.9,466.8 788.7,523.2 852.9,533.2 943.5,507.6 1098.2,532.0" fill="none" stroke="#e7533a" stroke-width="6.6" stroke-linejoin="round" stroke-linecap="round"/>
<polyline points="280.4,489.6 286.2,488.5 292.1,487.5 298.2,486.6 304.5,487.2 311.0,487.8 317.7,488.5 324.5,489.6 331.6,486.8 338.9,486.2 346.5,486.0 354.3,485.6 362.5,483.5 370.9,481.3 379.6,480.5 388.8,479.5 398.3,477.9 408.2,480.0 418.6,474.4 429.5,472.0 440.9,469.4 453.0,475.0 465.7,467.5 479.3,450.0 493.7,451.3 509.1,453.8 525.6,444.5 543.5,434.6 562.9,427.8 584.2,421.3 607.7,282.0 634.0,182.3 663.8,344.0 698.2,402.0 738.9,466.8 788.7,523.2 852.9,533.2 943.5,507.6 1098.2,532.0" fill="none" stroke="#ce2417" stroke-width="6.6" stroke-linejoin="round" stroke-linecap="round"/>
<polyline points="280.4,489.6 286.2,488.5 292.1,487.5 298.2,486.6 304.5,487.2 311.0,487.8 317.7,488.5 324.5,489.6 331.6,486.8 338.9,486.2 346.5,486.0 354.3,485.6 362.5,483.5 370.9,481.3 379.6,480.5 388.8,479.5 398.3,477.9 408.2,480.0 418.6,474.4 429.5,472.0 440.9,469.4 453.0,475.0 465.7,467.5 479.3,450.0 493.7,451.3 509.1,453.8 525.6,444.5 543.5,434.6 562.9,427.8 584.2,421.3 607.7,282.0 634.0,182.3 663.8,344.0 698.2,402.0 738.9,466.8 788.7,523.2 852.9,533.2 943.5,507.6 1098.2,532.0" fill="none" stroke="#ad0000" stroke-width="6.6" stroke-linejoin="round" stroke-linecap="round"/>
<polyline points="280.4,489.6 286.2,488.5 292.1,487.5 298.2,486.6 304.5,487.2 311.0,487.8 317.7,488.5 324.5,489.6 331.6,486.8 338.9,486.2 346.5,486.0 354.3,485.6 362.5,483.5 370.9,481.3 379.6,480.5 388.8,479.5 398.3,477.9 408.2,480.0 418.6,474.4 429.5,472.0 440.9,469.4 453.0,475.0 465.7,467.5 479.3,450.0 493.7,451.3 509.1,453.8 525.6,444.5 543.5,434.6 562.9,427.8 584.2,421.3 607.7,282.0 634.0,182.3 663.8,344.0 698.2,402.0 738.9,466.8 788.7,523.2 852.9,533.2 943.5,507.6 1098.2,532.0" fill="none" stroke="#7f0000" stroke-width="6.6" stroke-linejoin="round" stroke-linecap="round"/>
<line x1="634.0" x2="634.0" y1="813.4" y2="149.4" stroke="#000000" stroke-width="6.25" stroke-dasharray="23.125 10"/>
</g>
<rect x="239.5" y="149.4" width="899.0" height="664.0" fill="none" stroke="#cccccc" stroke-width="5.2"/>
<text x="689" y="67.2" font-size="50" text-anchor="middle">Dataset: California Housing</text>
<text x="689" y="123.5" font-size="50" text-anchor="middle">Ablation: Test Features in Training Feature Subspace</text>
<text x="688.3" y="952.3" font-size="50" text-anchor="middle">Num Parameters / Num. Training Samples</text>
<text transform="translate(67,480.9) rotate(-90)" font-size="50" text-anchor="middle">Train MSE</text>
<text x="121.7" y="231.9" font-size="45.83">10<tspan dy="-18.2" font-size="32.08">4</tspan></text>
<text x="121.7" y="336.9" font-size="45.83">10<tspan dy="-18.2" font-size="32.08">3</tspan></text>
<text x="121.7" y="441.9" font-size="45.83">10<tspan dy="-18.2" font-size="32.08">2</tspan></text>
<text x="121.7" y="546.9" font-size="45.83">10<tspan dy="-18.2" font-size="32.08">1</tspan></text>
<text x="121.7" y="651.9" font-size="45.83">10<tspan dy="-18.2" font-size="32.08">0</tspan></text>
<text x="96.3" y="756.9" font-size="45.83">10<tspan dy="-18.2" font-size="32.08">−1</tspan></text>
<text x="595.2" y="889.6" font-size="45.83">10<tspan dy="-18.2" font-size="32.08">0</tspan></text>
<rect x="1161.2" y="171" width="420.8" height="671.7" rx="8.5" ry="8.5" fill="#ffffff" stroke="#d6d6d6" stroke-width="4.17"/>
<text x="1180.2" y="228.1" font-size="50">Num. Leading</text>
<text x="1180.2" y="283.3" font-size="50">Singular Modes</text>
<text x="1180.2" y="338.5" font-size="50">to Keep</text>
<line x1="1278.4" x2="1370.1" y1="391.2" y2="391.2" stroke="#fff7ec" stroke-width="6.25" stroke-linecap="round"/>
<text x="1406.7" y="407.0" font-size="45.83">1</text>
<line x1="1278.4" x2="1370.1" y1="459.2" y2="459.2" stroke="#fdd9a8" stroke-width="6.25" stroke-linecap="round"/>
<text x="1406.7" y="475.0" font-size="45.83">3</text>
<line x1="1278.4" x2="1370.1" y1="527.2" y2="527.2" stroke="#fdc38d" stroke-width="6.25" stroke-linecap="round"/>
<text x="1406.7" y="543.0" font-size="45.83">4</text>
<line x1="1278.4" x2="1370.1" y1="595.2" y2="595.2" stroke="#f67b51" stroke-width="6.25" stroke-linecap="round"/>
<text x="1406.7" y="611.0" font-size="45.83">6</text>
<line x1="1278.4" x2="1370.1" y1="662.7" y2="662.7" stroke="#e7533a" stroke-width="6.25" stroke-linecap="round"/>
<text x="1406.7" y="678.5" font-size="45.83">7</text>
<line x1="1278.4" x2="1370.1" y1="730.4" y2="730.4" stroke="#ad0000" stroke-width="6.25" stroke-linecap="round"/>
<text x="1406.7" y="746.2" font-size="45.83">9</text>
<line x1="1278.4" x2="1370.1" y1="798.1" y2="798.1" stroke="#7f0000" stroke-width="6.25" stroke-linecap="round"/>
<text x="1406.7" y="813.9" font-size="45.83">10</text>
</svg>
</body></html>
